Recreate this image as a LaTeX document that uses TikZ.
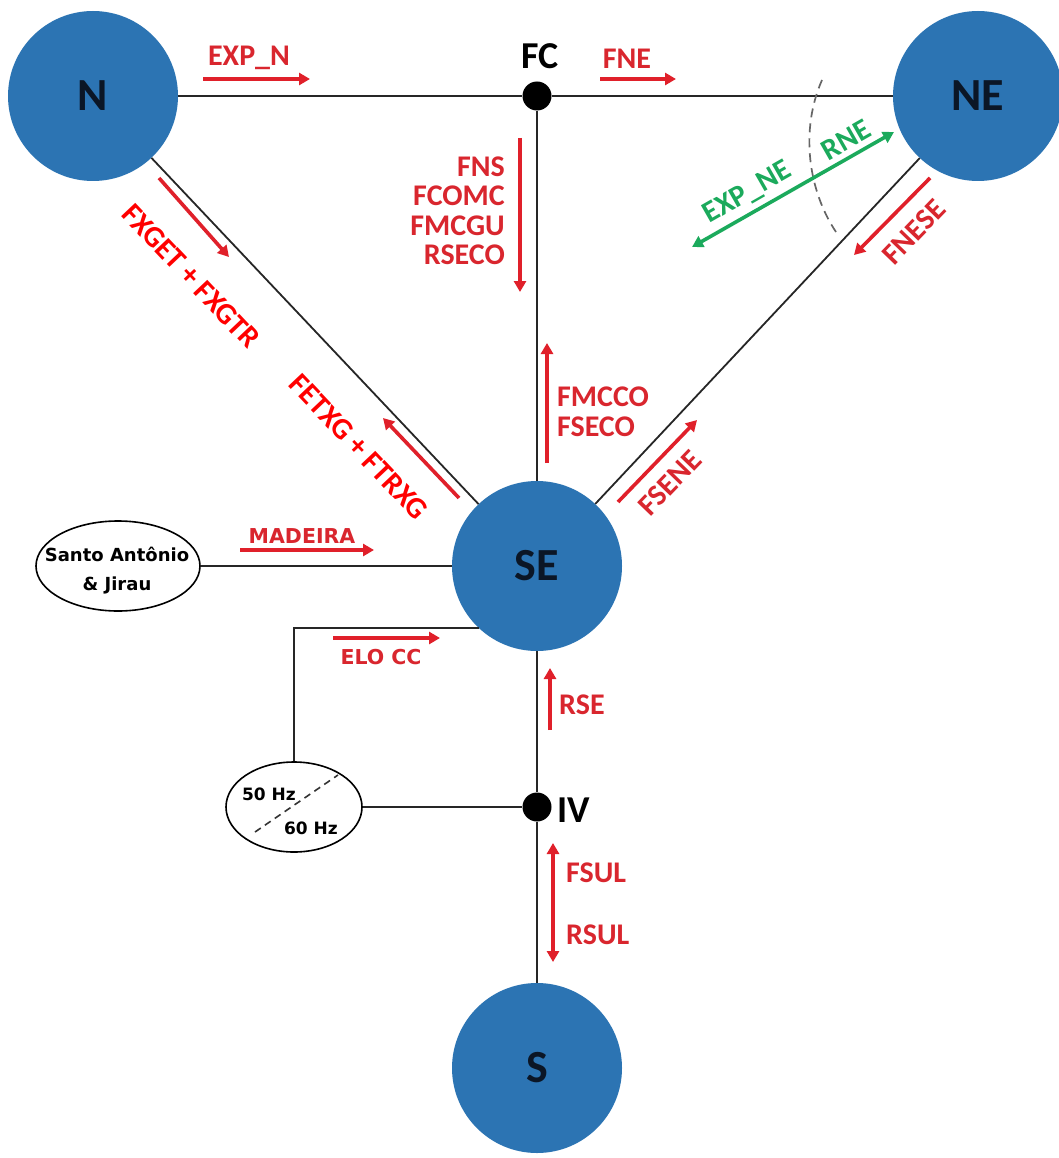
\documentclass[tikz,border=0pt]{standalone}
\usepackage{fontspec}
\setmainfont{Carlito}
\newfontfamily\widefont{DejaVu Sans}
\usetikzlibrary{arrows.meta,shapes.geometric}
\definecolor{hubblue}{HTML}{2C74B3}
\definecolor{hubtext}{HTML}{0B1626}
\definecolor{lblred}{HTML}{D9262E}
\definecolor{arrred}{HTML}{E0202A}
\definecolor{purered}{HTML}{FF0000}
\definecolor{grn}{HTML}{1BAA5C}
\begin{document}
\begin{tikzpicture}[x=1pt,y=-1pt,
  hub/.style={circle,fill=hubblue,minimum size=170pt,inner sep=0pt,
    font=\bfseries\fontsize{46}{46}\selectfont,text=hubtext},
  junction/.style={circle,fill=black,minimum size=29pt,inner sep=0pt},
  junctlbl/.style={font=\bfseries\fontsize{38}{38}\selectfont,inner sep=0pt},
  wire/.style={line width=1.8pt,black!85},
  flow/.style={line width=3.6pt,arrred,-{Triangle[length=11pt,width=12pt]}},
  dflow/.style={line width=3.6pt,arrred,{Triangle[length=11pt,width=12pt]}-{Triangle[length=11pt,width=12pt]}},
  gflow/.style={line width=3.6pt,grn,{Triangle[length=11pt,width=12pt]}-{Triangle[length=11pt,width=12pt]}},
  flowlbl/.style={font=\bfseries\fontsize{30}{29.5}\selectfont,text=lblred,inner sep=0pt},
  rotlbl/.style={font=\bfseries\fontsize{30}{30}\selectfont,text=purered,inner sep=0pt},
  greenlbl/.style={font=\bfseries\fontsize{30}{30}\selectfont,text=grn,inner sep=0pt},
  widelbl/.style={font=\widefont\bfseries\fontsize{20.5}{20.5}\selectfont,text=lblred,inner sep=0pt},
  hzlbl/.style={font=\widefont\bfseries\fontsize{17}{17}\selectfont,inner sep=0pt},
  oval/.style={ellipse,draw,line width=1.6pt,inner sep=0pt}
]
\useasboundingbox[fill=white] (0,0) rectangle (1058,1158);

% hubs and junctions
\node[hub] (N) at (93,96) {N};
\node[hub] (NE) at (978,96) {NE};
\node[hub] (SE) at (537,566) {SE};
\node[hub] (S) at (537,1068) {S};
\node[junction] (FC) at (537,96) {};
\node[junction] (IV) at (537,807) {};
\node[junctlbl] (FCl) at (540,56) {FC};
\node[junctlbl,anchor=west] (IVl) at (557,810) {IV};

\node[oval,minimum width=164pt,minimum height=90pt] (Santo) at (118,566) {};
\node[align=center,inner sep=0pt,
  font=\widefont\bfseries\fontsize{18}{29}\selectfont] (SantoT) at (117,571)
  {Santo Antônio\\\& Jirau};
\node[oval,minimum width=136pt,minimum height=90pt] (Hz) at (294,807) {};
\draw[dash pattern=on 7pt off 5pt,line width=1.6pt,black!80] (255,832) -- (338,775);
\node[hzlbl] (h50) at (269,794) {50 Hz};
\node[hzlbl] (h60) at (311,828) {60 Hz};

% wires
\draw[wire] (N) -- (FC);
\draw[wire] (FC) -- (NE);
\draw[wire] (FC) -- (SE);
\draw[wire] (N) -- (SE);
\draw[wire] (NE) -- (SE);
\draw[wire] (Santo) -- (SE);
\draw[wire] (SE.227) -| (Hz.north);
\draw[wire] (Hz) -- (IV);
\draw[wire] (SE) -- (IV);
\draw[wire] (IV) -- (S);

% dashed cut
\draw[dash pattern=on 9pt off 6pt,line width=1.7pt,black!60] (822,80) .. controls (800,130) and (808,190) .. (836,232);

% flows
\draw[flow] (203,79) -- (310,79);
\node[flowlbl] at (249,58) {EXP\_N};
\draw[flow] (600,79) -- (676,79);
\node[flowlbl] at (627,59) {FNE};
\draw[flow] (520,138) -- (520,292);
\node[flowlbl,align=right,anchor=east] at (505,211) {FNS\\FCOMC\\FMCGU\\RSECO};
\draw[flow] (159,178) -- (229,257);
\node[rotlbl,rotate=-46.6] at (191,276) {FXGET + FXGTR};
\draw[flow] (459,498) -- (383,418);
\node[rotlbl,rotate=-46.6] at (359,447) {FETXG + FTRXG};
\draw[flow] (547,463) -- (547,343);
\node[flowlbl,align=left,anchor=west] at (557,412) {FMCCO\\FSECO};
\draw[flow] (618,502) -- (697,420);
\node[flowlbl,rotate=46] at (670,483) {FSENE};
\draw[flow] (930,178) -- (854,255);
\node[flowlbl,rotate=46] at (914,232) {FNESE};
\draw[gflow] (692,247) -- (894,132);
\node[greenlbl,rotate=29.7] at (748,193) {EXP\_NE};
\node[greenlbl,rotate=29.7] at (846,140) {RNE};
\draw[flow] (240,550) -- (374,550);
\node[widelbl] at (302,536) {MADEIRA};
\draw[flow] (333,638) -- (440,638);
\node[widelbl] at (381,657) {ELO CC};
\draw[flow] (550,730) -- (550,668);
\node[flowlbl,anchor=west] at (559,705) {RSE};
\draw[dflow] (553,843) -- (553,962);
\node[flowlbl,anchor=west] at (566,873) {FSUL};
\node[flowlbl,anchor=west] at (566,935) {RSUL};
\end{tikzpicture}
\end{document}
